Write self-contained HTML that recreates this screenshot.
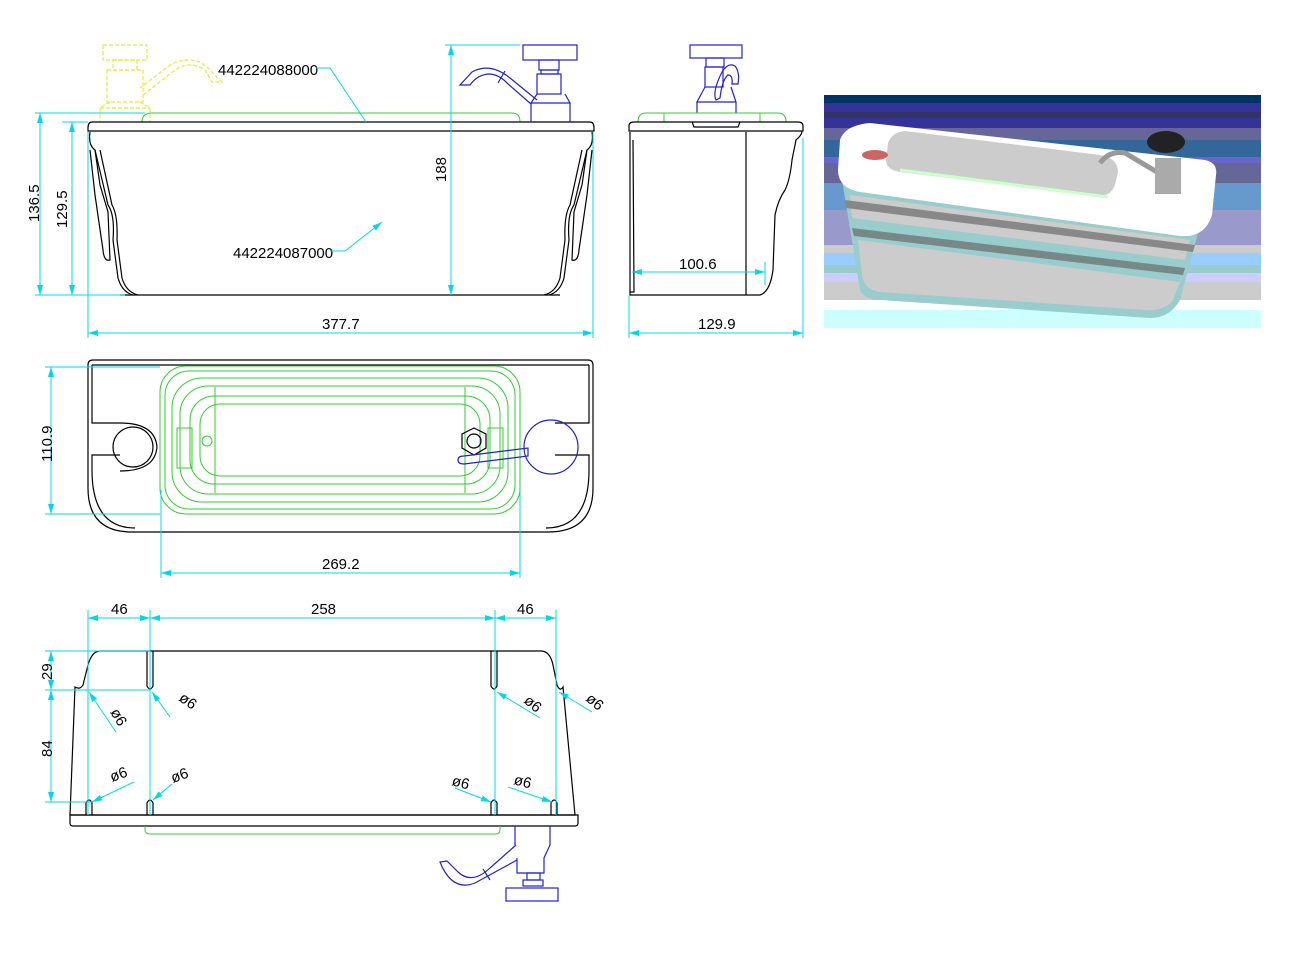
<!DOCTYPE html>
<html><head><meta charset="utf-8"><style>
html,body{margin:0;padding:0;background:#fff;}
svg{display:block;}
text{font-family:"Liberation Sans",sans-serif;font-size:15px;fill:#000;}
.c{stroke:#00d8e8;stroke-width:1;fill:none;}
.k{stroke:#000;stroke-width:1.2;fill:none;}
.g{stroke:#33cc33;stroke-width:1;fill:none;}
.b{stroke:#2222cc;stroke-width:1.2;fill:none;}
.y{stroke:#e8e840;stroke-width:1.2;fill:none;stroke-dasharray:4 2;}
</style></head><body>
<svg width="1293" height="968" viewBox="0 0 1293 968" xmlns="http://www.w3.org/2000/svg">
<defs>
<marker id="a" viewBox="0 0 10 6" refX="10" refY="3" markerWidth="10" markerHeight="6" orient="auto-start-reverse"><path d="M0,0 L10,3 L0,6 z" fill="#00d8e8"/></marker>
</defs>

<!-- ===== FRONT VIEW ===== -->
<!-- yellow dashed faucet -->
<g class="y">
<rect x="103" y="45" width="44" height="15"/>
<rect x="113" y="60" width="24" height="10"/>
<rect x="107" y="70" width="36" height="32"/>
<path d="M110,102 L100,108 L100,122 M140,102 L150,108 L150,122 M100,108 L150,108"/>
<path d="M143,95 L175,70 Q190,60 205,70 L212,82 L222,82 L212,72 Q195,52 170,65 L140,88"/>
</g>
<!-- green top line -->
<path class="g" d="M142,122 Q142,113 152,113 L512,113 Q520,113 520,122"/>
<!-- rim -->
<path class="k" d="M92,122 L590,122 Q594,122 594,128 L594,131 L88,131 L88,128 Q88,122 92,122 Z"/>
<!-- body sides -->
<path class="k" d="M90,132 Q88,145 95,150 L100,185 L108,212 L110,260 Q104,262 103,250 L95,195 L90,150"/>
<path class="k" d="M95,150 L108,205 Q115,215 113,240 L118,278 Q122,292 133,295"/>
<path class="k" d="M100,150 L112,205 Q118,215 117,240 L122,278 Q126,292 138,295"/>
<path class="k" d="M592,132 Q594,145 587,150 L582,185 L574,212 L572,260 Q578,262 579,250 L587,195 L592,150"/>
<path class="k" d="M587,150 L574,205 Q567,215 569,240 L564,278 Q560,292 549,295"/>
<path class="k" d="M582,150 L570,205 Q564,215 565,240 L560,278 Q556,292 544,295"/>
<line class="k" x1="120" y1="295" x2="560" y2="295"/>
<!-- right faucet blue -->
<g class="b">
<rect x="523" y="45" width="54" height="15"/>
<rect x="539" y="60" width="20" height="10"/>
<rect x="541" y="70" width="17" height="4"/>
<rect x="537" y="74" width="24" height="20"/>
<path d="M537,94 L531,103 L570,103 L565,94 M531,103 L531,122 M570,103 L570,122"/>
<path d="M537,100 L510,78 Q490,62 472,72 L460,85 L470,85 Q478,74 490,74 Q500,75 508,84 L531,104"/>
<line x1="505" y1="71" x2="498" y2="83"/>
</g>
<!-- front dims -->
<line class="c" x1="35" y1="113" x2="145" y2="113"/>
<line class="c" x1="62" y1="122" x2="88" y2="122"/>
<line class="c" x1="35" y1="295" x2="125" y2="295"/>
<line class="c" x1="40" y1="113" x2="40" y2="295" marker-start="url(#a)" marker-end="url(#a)"/>
<line class="c" x1="72" y1="122" x2="72" y2="295" marker-start="url(#a)" marker-end="url(#a)"/>
<line class="c" x1="445" y1="45" x2="520" y2="45"/>
<line class="c" x1="451" y1="45" x2="451" y2="295" marker-start="url(#a)" marker-end="url(#a)"/>
<line class="c" x1="88" y1="132" x2="88" y2="338"/>
<line class="c" x1="593" y1="132" x2="593" y2="338"/>
<line class="c" x1="88" y1="333" x2="593" y2="333" marker-start="url(#a)" marker-end="url(#a)"/>
<text x="322" y="329">377.7</text>
<text transform="translate(39,222) rotate(-90)">136.5</text>
<text transform="translate(67,228) rotate(-90)">129.5</text>
<text transform="translate(446,182) rotate(-90)">188</text>
<text x="218" y="75">442224088000</text>
<path class="c" d="M316,68 L330,68 L366,122"/>
<text x="233" y="258">442224087000</text>
<path class="c" d="M330,251 L345,251 L382,222" marker-end="url(#a)"/>

<!-- ===== SIDE VIEW ===== -->
<g class="b">
<rect x="690" y="45" width="52" height="13"/>
<rect x="706" y="58" width="18" height="9"/>
<rect x="705" y="67" width="18" height="20"/>
<path d="M705,87 L697,102 L736,102 L731,87 M697,102 L697,113 M736,102 L736,113"/>
<path d="M716,100 Q712,92 722,72 Q728,62 735,66 Q740,72 738,84 L732,84 Q733,75 728,75 Q722,80 720,98 Z"/>
</g>
<path class="g" d="M638,122 Q638,113 646,113 L778,113 Q786,113 786,122 M664,113 L664,122 M760,113 L760,122"/>
<path class="k" d="M634,122 L798,122 Q803,122 803,126 L803,131 L629,131 L629,126 Q629,122 634,122 Z"/>
<path class="k" d="M692,122 L694,127 L738,127 L740,122"/>
<path class="k" d="M630,132 L630,295 L760,295 Q770,292 773,270 L775,215 Q778,200 785,190 Q790,180 792,160 L796,140 Q802,135 802,131"/>
<line class="k" x1="746" y1="132" x2="746" y2="295"/>
<path class="k" d="M633,140 L634,292 L630,292"/>
<line class="c" x1="629" y1="296" x2="629" y2="338"/>
<line class="c" x1="803" y1="138" x2="803" y2="338"/>
<line class="c" x1="765" y1="262" x2="765" y2="285"/>
<line class="c" x1="632" y1="272" x2="765" y2="272" marker-start="url(#a)" marker-end="url(#a)"/>
<line class="c" x1="629" y1="333" x2="803" y2="333" marker-start="url(#a)" marker-end="url(#a)"/>
<text x="679" y="269">100.6</text>
<text x="698" y="329">129.9</text>

<!-- ===== PHOTO ===== -->
<g>
<rect x="824" y="95" width="437" height="8" fill="#003366"/>
<rect x="824" y="103" width="437" height="9" fill="#333399"/>
<rect x="824" y="112" width="437" height="6" fill="#333366"/>
<rect x="824" y="118" width="437" height="10" fill="#333399"/>
<rect x="824" y="128" width="437" height="12" fill="#666699"/>
<rect x="824" y="140" width="437" height="17" fill="#336699"/>
<rect x="824" y="157" width="437" height="6" fill="#6666cc"/>
<rect x="824" y="163" width="437" height="20" fill="#666699"/>
<rect x="824" y="183" width="437" height="27" fill="#6699cc"/>
<rect x="824" y="210" width="437" height="35" fill="#9999cc"/>
<rect x="824" y="245" width="437" height="8" fill="#cccccc"/>
<rect x="824" y="253" width="437" height="12" fill="#99ccff"/>
<rect x="824" y="265" width="437" height="8" fill="#99cccc"/>
<rect x="824" y="273" width="437" height="9" fill="#ccccff"/>
<rect x="824" y="282" width="437" height="18" fill="#cccccc"/>
<rect x="824" y="310" width="437" height="18" fill="#ccffff"/>
<!-- sink body -->
<path d="M842,180 L860,290 Q865,300 880,300 L1150,318 Q1170,318 1180,300 L1200,225 L1205,215 L842,170 Z" fill="#99cccc"/>
<path d="M850,195 L1190,240 L1185,260 L852,218 Z" fill="#cccccc"/>
<path d="M858,240 L1180,282 L1172,302 Q1160,312 1145,310 L880,292 Q864,290 862,275 Z" fill="#cccccc"/>
<path d="M845,200 L1195,245 L1193,252 L846,208 Z" fill="#888888"/>
<path d="M852,228 L1185,268 L1183,275 L854,236 Z" fill="#778888"/>
<!-- top -->
<path d="M840,140 Q845,125 870,123 L1205,160 Q1218,163 1216,175 L1212,215 Q1205,238 1180,236 L860,192 Q838,188 838,170 Z" fill="#ffffff"/>
<path d="M888,143 Q892,132 905,131 L1100,155 Q1118,158 1118,172 L1115,185 Q1110,198 1095,196 L900,172 Q886,170 886,160 Z" fill="#cccccc"/>
<path d="M900,170 L1108,197" stroke="#ccffcc" stroke-width="3"/>
<ellipse cx="875" cy="155" rx="13" ry="5" fill="#cc6666"/>
<path d="M1100,163 Q1110,150 1125,153 L1162,175" stroke="#999999" stroke-width="5" fill="none"/>
<rect x="1155" y="158" width="26" height="36" fill="#aaaaaa"/>
<ellipse cx="1166" cy="142" rx="19" ry="11" fill="#222222"/>
</g>

<!-- ===== TOP VIEW ===== -->
<path class="k" d="M93,360 L588,360 Q593,360 593,365 L593,488 Q593,532 548,532 L132,532 Q88,532 88,488 L88,365 Q88,360 93,360 Z"/>
<path class="k" d="M92,365 L589,365 M92,365 L92,423 L120,423 M92,470 L92,455 L120,455 M589,365 L589,423 L555,423 M589,470 L589,455 L555,455 M92,470 Q92,528 135,528 M589,470 Q589,528 546,528"/>
<circle class="k" cx="133" cy="447" r="20"/>
<path class="k" d="M120,423 Q155,423 157,447 Q155,471 120,471"/>
<g class="g">
<rect x="160" y="366" width="360" height="148" rx="26"/>
<rect x="165" y="371" width="350" height="138" rx="24"/>
<rect x="172" y="378" width="336" height="124" rx="30"/>
<rect x="180" y="386" width="320" height="108" rx="28"/>
<rect x="190" y="396" width="300" height="88" rx="24"/>
<rect x="200" y="404" width="280" height="72" rx="20"/>
<line x1="215" y1="387" x2="215" y2="493"/><line x1="465" y1="387" x2="465" y2="493"/>
<rect x="177" y="428" width="15" height="40"/>
<rect x="488" y="428" width="15" height="40"/>
<circle cx="207" cy="441" r="5"/>
</g>
<polygon class="k" points="474,428 486,434 486,448 474,455 462,448 462,434"/>
<circle class="k" cx="474" cy="441" r="7"/>
<path class="b" d="M464,456 L528,448 L528,456 L464,464 Q458,464 458,460 Q458,456 464,456 Z"/>
<circle class="b" cx="551" cy="447" r="27" fill="#fff"/>
<line class="c" x1="45" y1="367" x2="160" y2="367"/>
<line class="c" x1="45" y1="514" x2="160" y2="514"/>
<line class="c" x1="51" y1="367" x2="51" y2="514" marker-start="url(#a)" marker-end="url(#a)"/>
<text transform="translate(52,462) rotate(-90)">110.9</text>
<line class="c" x1="161" y1="490" x2="161" y2="578"/>
<line class="c" x1="520" y1="490" x2="520" y2="578"/>
<line class="c" x1="161" y1="573" x2="520" y2="573" marker-start="url(#a)" marker-end="url(#a)"/>
<text x="322" y="569">269.2</text>

<!-- ===== BOTTOM VIEW ===== -->
<path class="k" d="M100,651 L541,651 Q550,651 553,665 L557,685 Q560,692 563,687 L575,815 L70,815 L75,687 Q80,690 83,685 L88,665 Q92,651 100,651"/>
<path class="k" d="M70,815 L578,815 L578,823 Q578,826 575,826 L73,826 Q70,826 70,823 Z"/>
<g class="k">
<path d="M147,651 L147,686 Q150,692 153,686 L153,651"/>
<path d="M491,651 L491,686 Q494,692 497,686 L497,651"/>
<path d="M86,815 L86,803 Q89,797 92,803 L92,815"/>
<path d="M147,815 L147,803 Q150,797 153,803 L153,815"/>
<path d="M491,815 L491,803 Q494,797 497,803 L497,815"/>
<path d="M551,815 L551,803 Q554,797 557,803 L557,815"/>
</g>
<path class="g" d="M145,826 L145,830 Q145,834 150,834 L495,834 Q500,834 500,830 L500,826"/>
<g class="b">
<path d="M515,826 L515,845 M550,826 L550,845 L544,858 L544,873 L517,873 L517,858"/>
<rect x="527" y="873" width="13" height="7"/><rect x="523" y="880" width="20" height="6"/>
<rect x="506" y="888" width="52" height="13"/>
<path d="M516,845 L490,868 Q472,885 458,872 L447,861 L440,862 Q452,892 475,883 L517,860"/>
<line x1="483" y1="869" x2="490" y2="880"/>
</g>
<g class="c">
<line x1="88" y1="610" x2="88" y2="815"/>
<line x1="150" y1="610" x2="150" y2="815"/>
<line x1="495" y1="610" x2="495" y2="815"/>
<line x1="556" y1="610" x2="556" y2="815"/>
<line x1="88" y1="618" x2="150" y2="618" marker-start="url(#a)" marker-end="url(#a)"/>
<line x1="150" y1="618" x2="495" y2="618" marker-start="url(#a)" marker-end="url(#a)"/>
<line x1="495" y1="618" x2="556" y2="618" marker-start="url(#a)" marker-end="url(#a)"/>
<line x1="45" y1="651" x2="150" y2="651"/>
<line x1="45" y1="690" x2="150" y2="690"/>
<line x1="45" y1="802" x2="92" y2="802"/>
<line x1="51" y1="651" x2="51" y2="690" marker-start="url(#a)" marker-end="url(#a)"/>
<line x1="51" y1="690" x2="51" y2="802" marker-start="url(#a)" marker-end="url(#a)"/>
<line x1="116" y1="732" x2="89" y2="692" marker-end="url(#a)"/>
<line x1="170" y1="717" x2="152" y2="692" marker-end="url(#a)"/>
<line x1="540" y1="718" x2="497" y2="692" marker-end="url(#a)"/>
<line x1="592" y1="712" x2="559" y2="692" marker-end="url(#a)"/>
<line x1="134" y1="782" x2="92" y2="802" marker-end="url(#a)"/>
<line x1="172" y1="784" x2="153" y2="800" marker-end="url(#a)"/>
<line x1="455" y1="788" x2="491" y2="802" marker-end="url(#a)"/>
<line x1="508" y1="787" x2="552" y2="802" marker-end="url(#a)"/>
</g>
<text x="111" y="614">46</text>
<text x="311" y="614">258</text>
<text x="517" y="614">46</text>
<text transform="translate(52,680) rotate(-90)">29</text>
<text transform="translate(52,757) rotate(-90)">84</text>
<g style="font-size:14px">
<text transform="translate(110,712) rotate(60)">ø6</text>
<text transform="translate(178,700) rotate(35)">ø6</text>
<text transform="translate(523,702) rotate(40)">ø6</text>
<text transform="translate(585,700) rotate(40)">ø6</text>
<text transform="translate(112,782) rotate(-20)">ø6</text>
<text transform="translate(173,783) rotate(-20)">ø6</text>
<text transform="translate(451,785) rotate(15)">ø6</text>
<text transform="translate(513,784) rotate(15)">ø6</text>
</g>
</svg>
</body></html>
